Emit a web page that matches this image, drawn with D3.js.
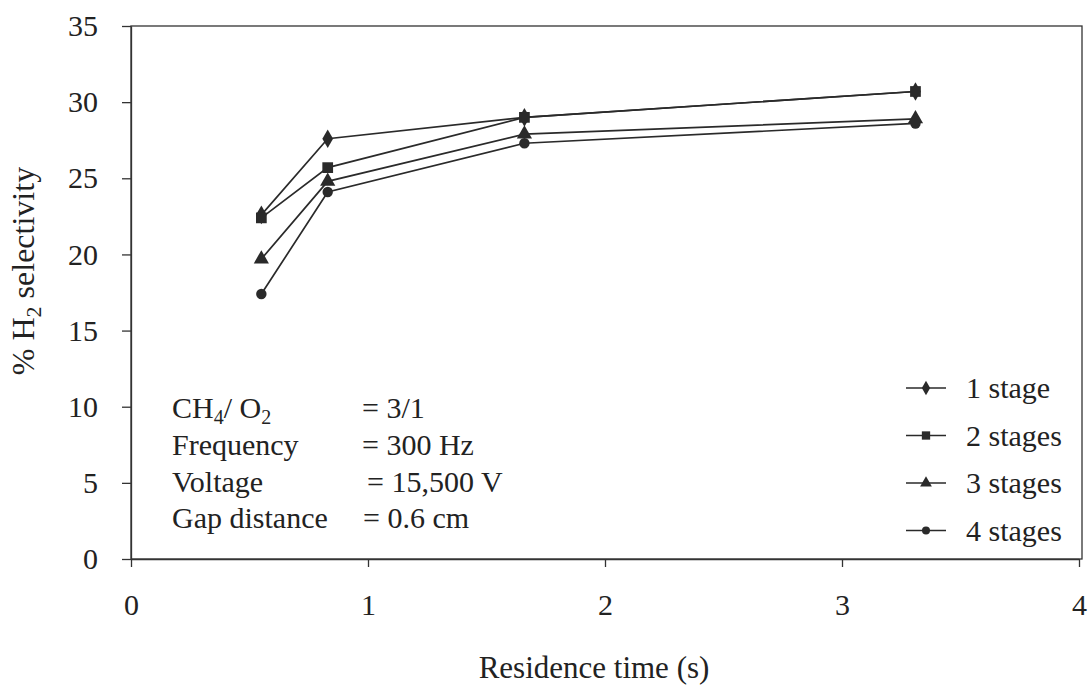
<!DOCTYPE html>
<html>
<head>
<meta charset="utf-8">
<script src="https://cdn.jsdelivr.net/npm/d3@7"></script>
<style>
  body { margin: 0; background: #fff; }
  text { font-family: "Liberation Serif", "Times New Roman", serif; fill: #222; }
  .axis path, .axis line { stroke: #333; stroke-width: 1.3; }
  .axis text { font-size: 30px; font-family: "Liberation Serif", serif; fill: #222; }
</style>
</head>
<body>
<div id="chart"></div>
<script>
var residenceTime = [0.55, 0.83, 1.66, 3.31];
var stage1 = [22.6, 27.6, 29.0, 30.7];
var stage2 = [22.4, 25.7, 29.0, 30.7];
var stage3 = [19.7, 24.8, 27.9, 28.9];
var stage4 = [17.4, 24.1, 27.3, 28.6];
var seriesNames = ["1 stage", "2 stages", "3 stages", "4 stages"];
var xTicks = [0, 1, 2, 3, 4];
var yTicks = [0, 5, 10, 15, 20, 25, 30, 35];

var W = 1092, H = 685;
var margin = {left: 131, top: 26, right: 10, bottom: 126};
var width = W - margin.left - margin.right,
    height = H - margin.top - margin.bottom;

var x = d3.scaleLinear().domain([0, 4]).range([0, 948]),
    y = d3.scaleLinear().domain([0, 35]).range([height, 0]);

var svg = d3.select("#chart").append("svg")
    .attr("width", W)
    .attr("height", H);

var g = svg.append("g")
    .attr("transform", "translate(" + margin.left + "," + margin.top + ")");

/* plot frame */
g.append("rect")
    .attr("width", width)
    .attr("height", height)
    .attr("fill", "none")
    .attr("stroke", "#333")
    .attr("stroke-width", 1.3);

var gX = g.append("g")
    .attr("class", "axis")
    .attr("transform", "translate(0," + height + ")")
    .call(d3.axisBottom(x).tickValues(xTicks).tickFormat(d3.format("d"))
      .tickSize(8).tickSizeOuter(0).tickPadding(27));

var gY = g.append("g")
    .attr("class", "axis")
    .call(d3.axisLeft(y).tickValues(yTicks).tickSize(9).tickSizeOuter(0).tickPadding(24));

svg.append("text")
    .attr("transform", "translate(34,271) rotate(-90)")
    .attr("text-anchor", "middle")
    .style("font-size", "32px")
    .html('% H<tspan dy="7" font-size="22">2</tspan><tspan dy="-7"> selectivity</tspan>');

svg.append("text")
    .attr("x", 594)
    .attr("y", 678)
    .attr("text-anchor", "middle")
    .style("font-size", "31px")
    .text("Residence time (s)");

var series = [stage1, stage2, stage3, stage4];
var symbols = [d3.symbolDiamond, d3.symbolSquare, d3.symbolTriangle, d3.symbolCircle];
var symSizes = [100, 115, 100, 85];

var line = d3.line()
    .x(function(d) { return x(d[0]); })
    .y(function(d) { return y(d[1]); });

series.forEach(function(vals, i) {
  var data = residenceTime.map(function(t, j) { return [t, vals[j]]; });
  g.append("path")
      .datum(data)
      .attr("fill", "none")
      .attr("stroke", "#2a2a2a")
      .attr("stroke-width", 1.7)
      .attr("d", line);
  g.selectAll(".m" + i)
    .data(data)
    .enter().append("path")
      .attr("class", "m" + i)
      .attr("transform", function(d) { return "translate(" + x(d[0]) + "," + y(d[1]) + ")"; })
      .attr("d", d3.symbol().type(symbols[i]).size(symSizes[i]))
      .attr("fill", "#2a2a2a");
});

/* legend */
var legend = g.append("g")
    .attr("transform", "translate(" + (906 - margin.left) + "," + (-margin.top) + ")");
seriesNames.forEach(function(name, i) {
  var ly = 388 + i * 47.5;
  legend.append("line")
      .attr("x1", 0).attr("x2", 40)
      .attr("y1", ly).attr("y2", ly)
      .attr("stroke", "#2a2a2a").attr("stroke-width", 1.5);
  legend.append("path")
      .attr("transform", "translate(20," + ly + ")")
      .attr("d", d3.symbol().type(symbols[i]).size(symSizes[i] * 0.6))
      .attr("fill", "#2a2a2a");
  legend.append("text")
      .attr("x", 60)
      .attr("y", ly + 10)
      .style("font-size", "30px")
      .text(name);
});

/* run conditions */
var notesLeft = ["CH", "Frequency", "Voltage", "Gap distance"];
var notesRight = ["= 3/1", "= 300 Hz", "= 15,500 V", "= 0.6 cm"];
var notesRightX = [362, 362, 367, 363];
var notes = g.append("g")
    .attr("transform", "translate(" + (-margin.left) + "," + (-margin.top) + ")");
notesLeft.forEach(function(t, i) {
  var ny = 418 + i * 36.8;
  var tl = notes.append("text")
      .attr("x", 172)
      .attr("y", ny)
      .style("font-size", "30px");
  if (i === 0) {
    tl.html('CH<tspan dy="6" font-size="20">4</tspan><tspan dy="-6">/ O</tspan><tspan dy="6" font-size="20">2</tspan>');
  } else {
    tl.text(t);
  }
  notes.append("text")
      .attr("x", notesRightX[i])
      .attr("y", ny)
      .style("font-size", "30px")
      .text(notesRight[i]);
});
</script>
</body>
</html>
